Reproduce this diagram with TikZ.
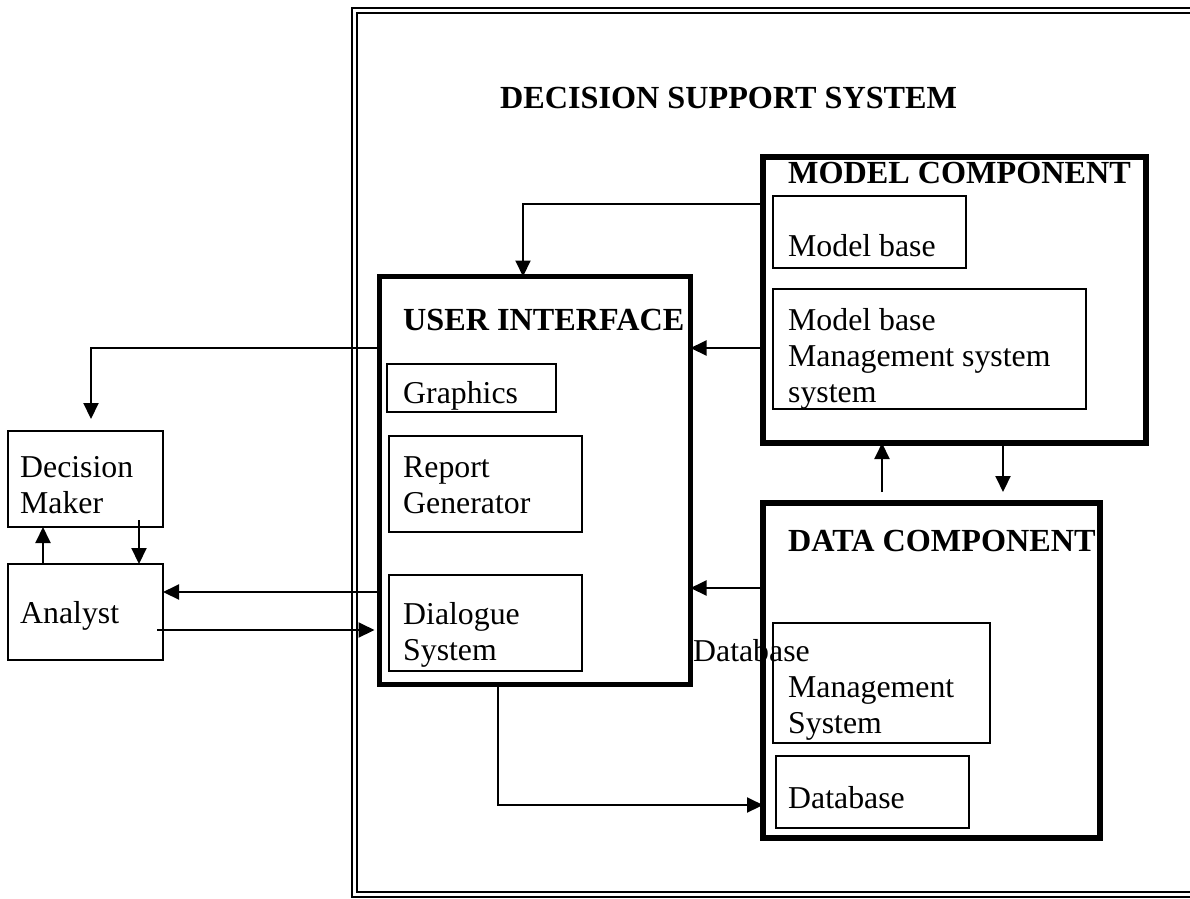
\documentclass[tikz,border=0pt]{standalone}
\usepackage{fontspec}
\setmainfont{Liberation Serif}
\usetikzlibrary{arrows.meta,calc}
\begin{document}
\begin{tikzpicture}[x=1pt,y=-1pt,
  thinbox/.style={draw, line width=2pt, inner sep=0pt, outer sep=0pt, anchor=north west},
  thickbox/.style={draw, line width=5.5pt, inner sep=0pt, outer sep=0pt, anchor=north west},
  lbl/.style={inner sep=0pt, anchor=base west, font=\fontsize{31.8}{36}\selectfont},
  hd/.style={inner sep=0pt, anchor=base west, font=\fontsize{32.2}{36}\selectfont\bfseries},
  arr/.style={line width=2pt, -{Triangle[length=16pt,width=15pt]}}]
\useasboundingbox (0,0) rectangle (1190,898);
\clip (0,0) rectangle (1190,898);
% outer frame
\draw[line width=1.6pt, double, double distance=3.2pt] (354.5,10.5) rectangle (1260,894.5);
\node[hd] (title) at (500,108) {DECISION SUPPORT SYSTEM};
% model component
\node[thickbox, minimum width=383pt, minimum height=286pt] (mc) at (763,157) {};
\node[hd] (mct) at (788,183) {MODEL COMPONENT};
\node[thinbox, minimum width=193pt, minimum height=72pt] (mb) at (773,196) {};
\node[lbl] (mbt) at (788,256) {Model base};
\node[thinbox, minimum width=313pt, minimum height=120pt] (mbms) at (773,289) {};
\node[lbl] (mbms1) at (788,330) {Model base};
\node[lbl] (mbms2) at (788,366) {Management system};
\node[lbl] (mbms3) at (788,402) {system};
% data component
\node[thickbox, minimum width=337pt, minimum height=335pt] (dc) at (763,503) {};
\node[hd] (dct) at (788,551) {DATA COMPONENT};
\node[thinbox, minimum width=217pt, minimum height=120pt] (dbms) at (773,623) {};
\node[lbl] (dbms1) at (693,661) {Database};
\node[lbl] (dbms2) at (788,697) {Management};
\node[lbl] (dbms3) at (788,733) {System};
\node[thinbox, minimum width=193pt, minimum height=72pt] (db) at (776,756) {};
\node[lbl] (dbt) at (788,808) {Database};
% user interface
\node[thickbox, minimum width=311pt, minimum height=408pt] (ui) at (379.5,276.5) {};
\node[hd] (uit) at (403,330) {USER INTERFACE};
\node[thinbox, minimum width=169pt, minimum height=48pt] (gr) at (387,364) {};
\node[lbl] (grt) at (403,403) {Graphics};
\node[thinbox, minimum width=193pt, minimum height=96pt] (rg) at (389,436) {};
\node[lbl] (rg1) at (403,477) {Report};
\node[lbl] (rg2) at (403,513) {Generator};
\node[thinbox, minimum width=193pt, minimum height=96pt] (ds) at (389,575) {};
\node[lbl] (ds1) at (403,624) {Dialogue};
\node[lbl] (ds2) at (403,660) {System};
% people
\node[thinbox, minimum width=155pt, minimum height=96pt] (dm) at (8,431) {};
\node[lbl] (dm1) at (20,477) {Decision};
\node[lbl] (dm2) at (20,513) {Maker};
\node[thinbox, minimum width=155pt, minimum height=96pt] (an) at (8,564) {};
\node[lbl] (ant) at (20,623) {Analyst};
% connectors
\coordinate (dmin) at (91,419);
\coordinate (dmout) at (139,520);
\coordinate (anout) at (157,630);
\coordinate (dcup) at (882,492);
\coordinate (dcdown) at (1003,492);
\draw[arr] (mc.west |- 0,204) -| (523,276.5);
\draw[arr] (mc.west |- 0,348) -- (ui.east |- 0,348);
\draw[arr] (ui.west |- 0,348) -| (dmin);
\draw[arr] (an.north -| 43,0) -- (dm.south -| 43,0);
\draw[arr] (dmout) -- (an.north -| dmout);
\draw[arr] (ui.west |- 0,592) -- (an.east |- 0,592);
\draw[arr] (anout) -- ([xshift=-5pt]ui.west |- anout);
\draw[arr] (ui.south -| 498,0) |- (dc.west |- 0,805);
\draw[arr] (dc.west |- 0,588) -- (ui.east |- 0,588);
\draw[arr] (dcup) -- (mc.south -| dcup);
\draw[arr] (mc.south -| dcdown) -- (dcdown);
\end{tikzpicture}
\end{document}
